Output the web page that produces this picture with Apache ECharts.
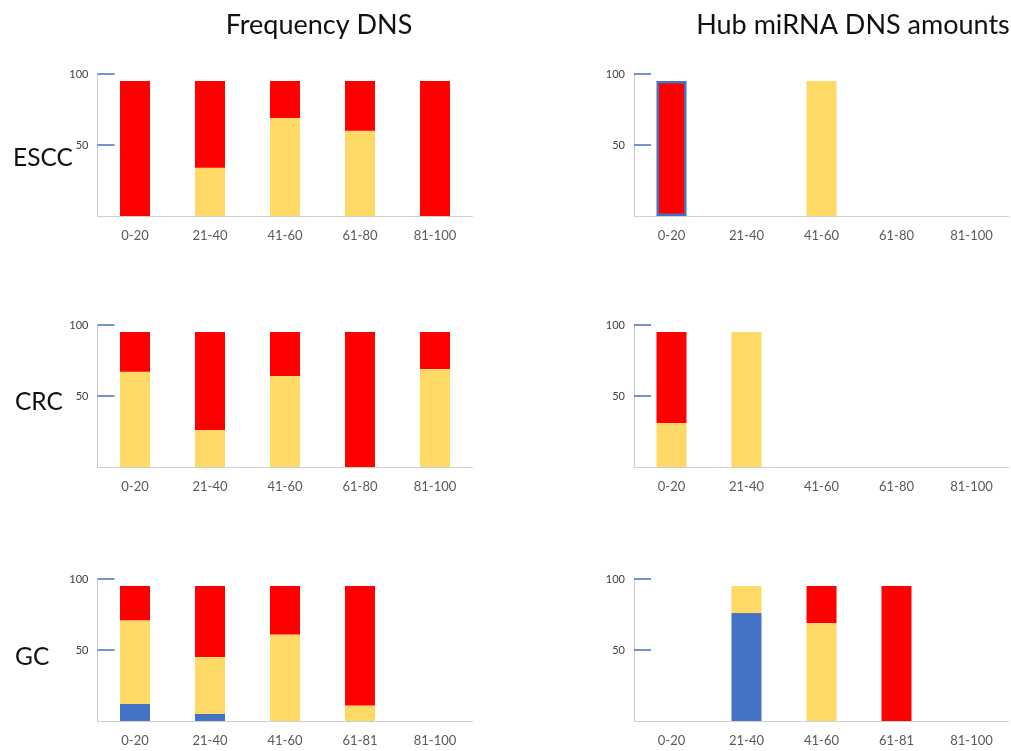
<!DOCTYPE html>
<html>
<head>
<meta charset="utf-8">
<script src="https://cdn.jsdelivr.net/npm/echarts@6/dist/echarts.min.js"></script>
<style>
  html, body { margin: 0; padding: 0; background: #fff; }
  #main { width: 1011px; height: 751px; }
</style>
</head>
<body>
<div id="main"></div>
<script>
// categories (bottom row uses 61-81 as in the source)
var catsTop = ['0-20', '21-40', '41-60', '61-80', '81-100'];
var catsGC = ['0-20', '21-40', '41-60', '61-81', '81-100'];
var yTicks = [50, 100];

// Frequency DNS
var esccFreqYellow = [0, 34, 69, 60, 0];
var esccFreqRed = [95, 61, 26, 35, 95];
var crcFreqYellow = [67, 26, 64, 0, 69];
var crcFreqRed = [28, 69, 31, 95, 26];
var gcFreqBlue = [12, 5, 0, 0, 0];
var gcFreqYellow = [59, 40, 61, 11, 0];
var gcFreqRed = [24, 50, 34, 84, 0];

// Hub miRNA DNS amounts
var esccHubYellow = [0, 0, 95, 0, 0];
var esccHubRed = [95, 0, 0, 0, 0];
var crcHubYellow = [31, 95, 0, 0, 0];
var crcHubRed = [64, 0, 0, 0, 0];
var gcHubBlue = [0, 76, 0, 0, 0];
var gcHubYellow = [0, 19, 69, 0, 0];
var gcHubRed = [0, 0, 26, 95, 0];

var RED = '#FF0000', YELLOW = '#FFD966', BLUE = '#4472C4';
var FONT = 'Lato';

var chart = echarts.init(document.getElementById('main'));

var rowTops = [74, 325, 579];
var colLefts = [97.5, 634];
var grids = [], xAxes = [], yAxes = [], series = [];

function addPanel(idx, row, col, cats, stacks) {
  grids.push({ left: colLefts[col], top: rowTops[row], width: 375, height: 142 });
  xAxes.push({
    type: 'category', gridIndex: idx, data: cats,
    axisLine: { lineStyle: { color: '#d0d0d0', width: 1 } },
    axisTick: { show: false },
    axisLabel: { color: '#595959', fontSize: 13, margin: 13, fontFamily: FONT }
  });
  yAxes.push({
    type: 'value', gridIndex: idx, min: 0, max: 100,
    splitLine: { show: false },
    axisLine: { show: true, lineStyle: { color: '#c8c8c8', width: 1 } },
    axisTick: { show: true, inside: true, length: 17, customValues: yTicks,
      lineStyle: { color: BLUE, width: 1.5 } },
    axisLabel: { color: '#404040', fontSize: 11, margin: 9, customValues: yTicks, fontFamily: FONT }
  });
  stacks.forEach(function (s) {
    series.push({
      type: 'bar', xAxisIndex: idx, yAxisIndex: idx, stack: 'p' + idx,
      barWidth: 30, data: s.data, itemStyle: { color: s.color }, silent: true
    });
  });
}

addPanel(0, 0, 0, catsTop, [
  { data: esccFreqYellow, color: YELLOW }, { data: esccFreqRed, color: RED }]);
addPanel(1, 0, 1, catsTop, [
  { data: esccHubYellow, color: YELLOW },
  { data: esccHubRed.map(function (v, i) {
      return i === 0 ? { value: v, itemStyle: { borderColor: BLUE, borderWidth: 2.5 } } : v;
    }), color: RED }]);
addPanel(2, 1, 0, catsTop, [
  { data: crcFreqYellow, color: YELLOW }, { data: crcFreqRed, color: RED }]);
addPanel(3, 1, 1, catsTop, [
  { data: crcHubYellow, color: YELLOW }, { data: crcHubRed, color: RED }]);
addPanel(4, 2, 0, catsGC, [
  { data: gcFreqBlue, color: BLUE }, { data: gcFreqYellow, color: YELLOW }, { data: gcFreqRed, color: RED }]);
addPanel(5, 2, 1, catsGC, [
  { data: gcHubBlue, color: BLUE }, { data: gcHubYellow, color: YELLOW }, { data: gcHubRed, color: RED }]);

function label(text, x, y, align, size) {
  return {
    type: 'text', x: x, y: y, silent: true,
    style: { text: text, fill: '#111', fontSize: size, fontFamily: FONT,
      align: align, verticalAlign: 'middle' }
  };
}

chart.setOption({
  animation: false,
  grid: grids,
  xAxis: xAxes,
  yAxis: yAxes,
  series: series,
  graphic: [
    label('Frequency DNS', 319, 25, 'center', 27),
    label('Hub miRNA DNS amounts', 853, 25, 'center', 27),
    label('ESCC', 13, 158, 'left', 24.5),
    label('CRC', 15, 402, 'left', 24.5),
    label('GC', 15, 657, 'left', 24.5)
  ]
});
</script>
</body>
</html>
